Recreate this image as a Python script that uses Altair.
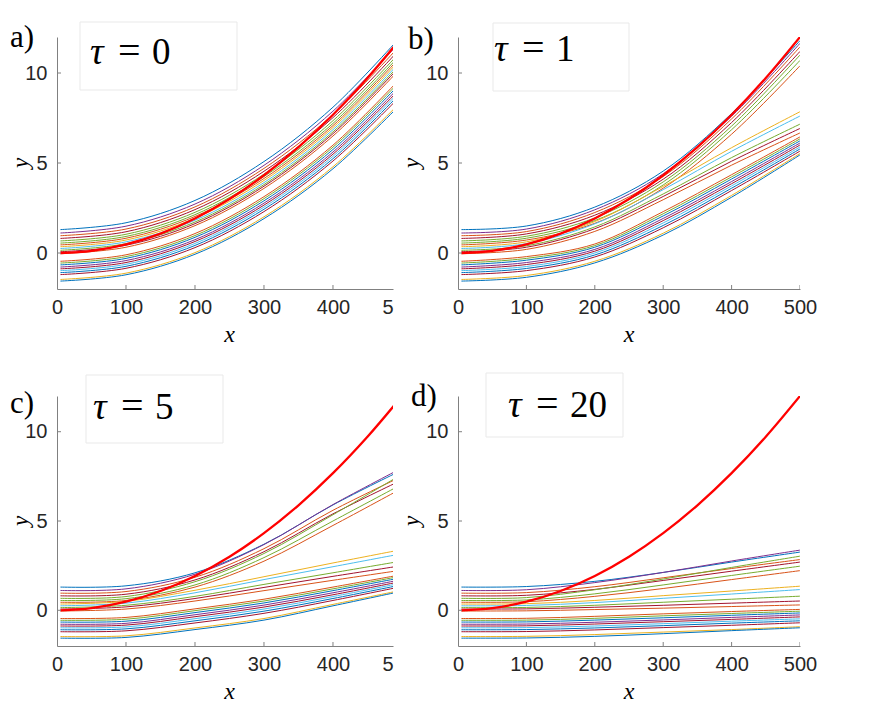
import altair as alt
import pandas as pd

# ---------------- data ----------------
X_PTS = [5, 100, 200, 300, 400, 500]
RED_X = [5, 50, 100, 150, 200, 250, 300, 350, 400, 450, 500]
RED_Y = [0.0, 0.12, 0.48, 1.08, 1.92, 3.0, 4.32, 5.88, 7.68, 9.72, 12.0]

LINE_COLORS = ["#0072BD", "#7E2F8E", "#D95319", "#A2142F", "#77AC30", "#77AC30", "#D95319",
               "#EDB120", "#4DBEEE", "#77AC30", "#A2142F", "#D95319",
               "#D95319", "#77AC30", "#0072BD", "#7E2F8E", "#A2142F", "#4DBEEE",
               "#0072BD", "#A2142F", "#EDB120", "#0072BD"]

TAU0 = [
    [1.30, 1.68, 2.92, 5.08, 8.10, 12.10],
    [1.11, 1.49, 2.72, 4.87, 7.88, 11.85],
    [0.96, 1.33, 2.56, 4.70, 7.69, 11.65],
    [0.81, 1.18, 2.41, 4.54, 7.52, 11.46],
    [0.67, 1.04, 2.26, 4.38, 7.35, 11.27],
    [0.55, 0.92, 2.13, 4.25, 7.20, 11.11],
    [0.45, 0.82, 2.03, 4.14, 7.08, 10.98],
    [0.35, 0.72, 1.93, 4.03, 6.97, 10.85],
    [0.25, 0.62, 1.82, 3.91, 6.85, 10.72],
    [0.15, 0.52, 1.72, 3.80, 6.73, 10.59],
    [0.07, 0.43, 1.63, 3.71, 6.63, 10.48],
    [-0.04, 0.32, 1.52, 3.59, 6.50, 10.34],
    [-0.46, -0.10, 1.08, 3.13, 5.99, 9.79],
    [-0.56, -0.20, 0.97, 3.02, 5.88, 9.66],
    [-0.66, -0.30, 0.87, 2.90, 5.75, 9.52],
    [-0.78, -0.42, 0.74, 2.77, 5.61, 9.37],
    [-0.88, -0.53, 0.64, 2.66, 5.49, 9.23],
    [-0.98, -0.63, 0.53, 2.55, 5.37, 9.10],
    [-1.09, -0.74, 0.42, 2.43, 5.24, 8.96],
    [-1.20, -0.85, 0.30, 2.30, 5.11, 8.81],
    [-1.47, -1.12, 0.02, 2.01, 4.79, 8.46],
    [-1.56, -1.21, -0.07, 1.91, 4.68, 8.34],
]

TAU1 = [
    [1.30, 1.50, 2.55, 4.55, 7.75, 11.80],
    [1.11, 1.33, 2.40, 4.40, 7.60, 11.65],
    [0.96, 1.19, 2.25, 4.25, 7.45, 11.45],
    [0.81, 1.06, 2.10, 4.10, 7.25, 11.20],
    [0.67, 0.93, 1.95, 3.95, 7.05, 11.00],
    [0.55, 0.82, 1.80, 3.78, 6.85, 10.70],
    [0.45, 0.72, 1.65, 3.60, 6.60, 10.40],
    [0.35, 0.62, 1.75, 3.70, 5.85, 7.85],
    [0.25, 0.52, 1.62, 3.52, 5.65, 7.61],
    [0.15, 0.40, 1.45, 3.28, 5.30, 7.16],
    [0.07, 0.32, 1.35, 3.14, 5.10, 6.92],
    [-0.04, 0.20, 1.20, 2.96, 4.88, 6.67],
    [-0.46, -0.20, 0.50, 2.30, 4.35, 6.45],
    [-0.56, -0.30, 0.41, 2.18, 4.23, 6.34],
    [-0.66, -0.40, 0.32, 2.06, 4.11, 6.23],
    [-0.78, -0.53, 0.20, 1.92, 3.97, 6.11],
    [-0.88, -0.64, 0.10, 1.80, 3.85, 6.00],
    [-0.98, -0.75, 0.00, 1.67, 3.73, 5.89],
    [-1.09, -0.86, -0.11, 1.53, 3.60, 5.78],
    [-1.20, -0.98, -0.22, 1.40, 3.47, 5.66],
    [-1.47, -1.25, -0.46, 1.10, 3.20, 5.53],
    [-1.56, -1.35, -0.55, 1.00, 3.10, 5.45],
]

TAU5 = [
    [1.30, 1.37, 2.10, 3.70, 5.90, 7.85],
    [1.11, 1.20, 2.02, 3.68, 5.92, 7.97],
    [0.96, 1.05, 1.85, 3.45, 5.60, 7.50],
    [0.81, 0.90, 1.70, 3.28, 5.40, 7.30],
    [0.67, 0.77, 1.60, 3.18, 5.35, 7.62],
    [0.55, 0.65, 1.42, 2.95, 5.00, 7.06],
    [0.45, 0.55, 1.30, 2.75, 4.75, 6.83],
    [0.35, 0.50, 1.12, 1.88, 2.65, 3.40],
    [0.25, 0.40, 0.98, 1.72, 2.44, 3.17],
    [0.15, 0.28, 0.78, 1.45, 2.10, 2.76],
    [0.07, 0.19, 0.66, 1.28, 1.90, 2.50],
    [-0.04, 0.07, 0.52, 1.10, 1.68, 2.25],
    [-0.46, -0.40, 0.08, 0.62, 1.30, 2.00],
    [-0.56, -0.50, -0.02, 0.52, 1.20, 1.92],
    [-0.66, -0.61, -0.13, 0.41, 1.10, 1.83],
    [-0.78, -0.73, -0.25, 0.29, 0.98, 1.72],
    [-0.88, -0.83, -0.36, 0.18, 0.87, 1.62],
    [-0.98, -0.93, -0.47, 0.07, 0.77, 1.53],
    [-1.09, -1.04, -0.59, -0.05, 0.66, 1.43],
    [-1.20, -1.15, -0.71, -0.17, 0.55, 1.33],
    [-1.47, -1.43, -0.99, -0.46, 0.33, 1.13],
    [-1.56, -1.52, -1.08, -0.55, 0.25, 1.07],
]

TAU20 = [
    [1.30, 1.33, 1.62, 2.12, 2.70, 3.26],
    [1.11, 1.15, 1.55, 2.12, 2.76, 3.37],
    [0.96, 0.99, 1.32, 1.82, 2.34, 2.84],
    [0.81, 0.84, 1.17, 1.67, 2.19, 2.70],
    [0.67, 0.71, 1.15, 1.75, 2.40, 3.03],
    [0.55, 0.58, 0.92, 1.42, 1.95, 2.47],
    [0.45, 0.48, 0.78, 1.22, 1.72, 2.22],
    [0.35, 0.37, 0.55, 0.82, 1.08, 1.35],
    [0.25, 0.27, 0.43, 0.67, 0.91, 1.16],
    [0.15, 0.16, 0.28, 0.45, 0.62, 0.79],
    [0.07, 0.08, 0.17, 0.28, 0.40, 0.52],
    [-0.04, -0.03, 0.04, 0.12, 0.21, 0.30],
    [-0.46, -0.45, -0.34, -0.20, -0.07, 0.05],
    [-0.56, -0.55, -0.45, -0.31, -0.18, -0.05],
    [-0.66, -0.65, -0.55, -0.42, -0.28, -0.15],
    [-0.78, -0.77, -0.67, -0.54, -0.40, -0.26],
    [-0.88, -0.87, -0.77, -0.64, -0.51, -0.37],
    [-0.98, -0.97, -0.88, -0.75, -0.61, -0.48],
    [-1.09, -1.08, -0.99, -0.86, -0.72, -0.59],
    [-1.20, -1.19, -1.10, -0.97, -0.84, -0.70],
    [-1.47, -1.46, -1.36, -1.22, -1.08, -0.92],
    [-1.56, -1.55, -1.46, -1.31, -1.14, -0.98],
]

X_TICKS_FULL = [0, 100, 200, 300, 400, 500]
X_TICKS_CUT = [0, 100, 200, 300, 400, 487]
Y_TICKS = [0, 5, 10]

AX = "#808080"
TXT = "#262626"
SERIF = "Liberation Serif"
SANS = "Liberation Sans"
CURVE = "catmull-rom"


def one():
    return pd.DataFrame({"k": [0]})


def label(text, x, y, size, style="normal", align="left", baseline="alphabetic", angle=0):
    return alt.Chart(one()).mark_text(
        text=text, font=SERIF, fontSize=size, fontStyle=style, color="black",
        align=align, baseline=baseline, angle=angle
    ).encode(x=alt.value(x), y=alt.value(y))


def panel(rows, num, letter, xmax, W, H, box, tau_pos, lab_pos, ytitle_x):
    ids = [f"L{i:02d}" for i in range(len(rows))]
    recs = []
    for lid, row in zip(ids, rows):
        for x, y in zip(X_PTS, row):
            recs.append({"line": lid, "x": x, "y": y})
    df = pd.DataFrame(recs)

    xs = alt.Scale(domain=[0, xmax], nice=False, zero=False)
    ys = alt.Scale(domain=[-2, 12], nice=False, zero=False)
    cut = xmax < 500
    xaxis = alt.Axis(
        values=X_TICKS_CUT if cut else X_TICKS_FULL,
        labelExpr="datum.value > 450 && datum.value < 499 ? '5' : datum.label",
        labelAlign={"condition": {"test": "datum.value > 450 && datum.value < 499", "value": "right"},
                    "value": "center"},
        title=None, grid=False, ticks=False, domainColor=AX, domainWidth=1,
        labelFont=SANS, labelFontSize=20, labelColor=TXT, labelPadding=8,
        labelFlush=False, labelOverlap=False)
    yaxis = alt.Axis(values=Y_TICKS, title=None, grid=False, ticks=False, domainColor=AX,
                     domainWidth=1, labelFont=SANS, labelFontSize=20, labelColor=TXT,
                     labelPadding=10, labelOverlap=False)

    X = alt.X("x:Q", scale=xs, axis=xaxis)
    Y = alt.Y("y:Q", scale=ys, axis=yaxis)

    lines = alt.Chart(df).mark_line(interpolate=CURVE, strokeWidth=1, clip=True).encode(
        x=X, y=Y,
        color=alt.Color("line:N", scale=alt.Scale(domain=ids, range=LINE_COLORS), legend=None),
        detail="line:N")
    red = alt.Chart(pd.DataFrame({"x": RED_X, "y": RED_Y})).mark_line(
        color="#FF0000", strokeWidth=2.3, interpolate=CURVE, clip=True).encode(x=X, y=Y)
    xt = alt.Chart(pd.DataFrame({"x": X_TICKS_FULL[1:]})).mark_rule(
        color=AX, strokeWidth=1, clip=True).encode(x=X, y=alt.value(H), y2=alt.value(H - 4))
    yt = alt.Chart(pd.DataFrame({"y": Y_TICKS})).mark_rule(color=AX, strokeWidth=1).encode(
        y=Y, x=alt.value(0), x2=alt.value(4))
    bx = alt.Chart(one()).mark_rect(fill="white", stroke="#e9e9e9", strokeWidth=1).encode(
        x=alt.value(box[0]), x2=alt.value(box[1]), y=alt.value(box[2]), y2=alt.value(box[3]))

    tl, tb = tau_pos
    texts = [
        label("τ", tl, tb, 38, style="italic"),
        label("=", tl + 28, tb, 40),
        label(num, tl + 62, tb, 37),
        label(letter, lab_pos[0], lab_pos[1], 31),
        label("x", W * 250 / xmax, H + 46, 24, style="italic", align="center", baseline="middle"),
        label("y", ytitle_x, H / 2, 23, style="italic", align="center", baseline="middle", angle=270),
    ]
    return alt.layer(lines, red, xt, yt, bx, *texts).properties(width=W, height=H)


pa = panel(TAU0, "0", "a)", 487, 336, 252, (23, 180, -15, 53), (33, 27), (-47, 10), -36)
pb = panel(TAU1, "1", "b)", 500, 342, 252, (35, 171, -14, 54), (36, 24), (-50, 12), -46)
pc = panel(TAU5, "5", "c)", 487, 336, 250, (29, 166, -21, 47), (36, 23), (-47, 17), -36)
pd_ = panel(TAU20, "20", "d)", 500, 342, 250, (28, 165, -23, 41), (50, 21), (-47, 10), -46)

chart = alt.concat(pa, pb, pc, pd_, columns=2, spacing={"row": 25, "column": 8}).properties(
    padding={"left": 2, "top": 13, "right": 5, "bottom": 5}
).configure_view(stroke=None)

chart.save("out.html", embed_options={"renderer": "svg", "actions": False})
